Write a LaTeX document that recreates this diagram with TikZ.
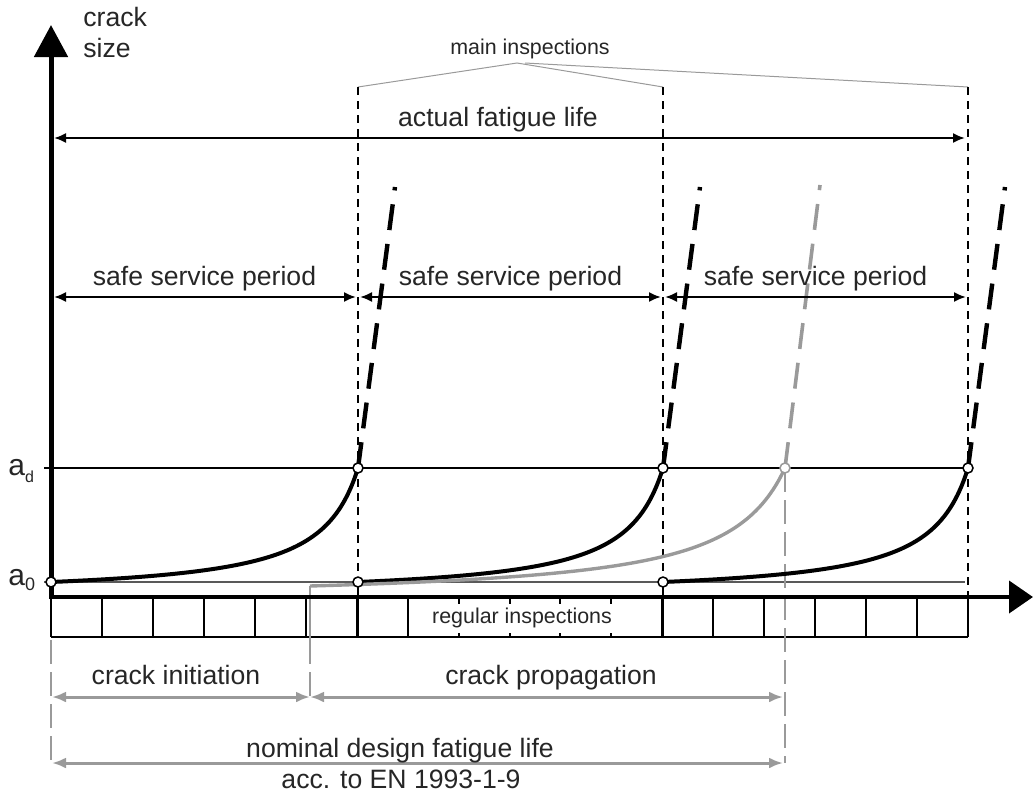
\documentclass[tikz,border=0pt]{standalone}
\usepackage{fontspec}
\setmainfont{Liberation Sans}
\usetikzlibrary{arrows.meta}
\definecolor{grayline}{HTML}{9A9A9A}
\definecolor{txt}{HTML}{262626}
\newcommand\crackcurve[5]{%
  \draw[#5] plot[domain=0:1,samples=90,smooth] ({#1+\x*(#2-#1)},{#3-(#3-#4)*(1/(1.13-\x)-0.88496)/6.80734});
}
\begin{document}
\begin{tikzpicture}[x=0.5pt,y=-0.5pt,
  lbl/.style={font=\fontsize{13.3}{14}\selectfont, text=txt, inner sep=0pt},
  small/.style={font=\fontsize{10.7}{12}\selectfont, text=txt, inner sep=0pt},
  vdash/.style={line width=1pt, dash pattern=on 4pt off 3pt},
  dim/.style={line width=1pt, {Latex[length=6pt,width=5pt]}-{Latex[length=6pt,width=5pt]}},
  gdim/.style={line width=1.5pt, draw=grayline, {Latex[length=7pt,width=5.5pt]}-{Latex[length=7pt,width=5.5pt]}},
  gdash/.style={line width=1pt, draw=grayline, dash pattern=on 12pt off 4pt},
  curve/.style={line width=2pt, black},
  gcurve/.style={line width=1.7pt, grayline},
  contdash/.style={line width=2.2pt, black, dash pattern=on 13pt off 7pt},
  gcontdash/.style={line width=1.8pt, grayline, dash pattern=on 13pt off 7pt},
  ring/.style={circle, draw=black, fill=white, line width=0.75pt, inner sep=0pt, minimum size=5pt},
  boxline/.style={line width=1pt},
  inspline/.style={line width=0.5pt, draw=grayline}
]
\useasboundingbox (0,0) rectangle (1034,793);

% key points
\coordinate (O) at (51,597);
\coordinate (Ytip) at (51,25);
\coordinate (Xstart) at (49,597);
\coordinate (Xtip) at (1033,597);
\coordinate (P0) at (51,582);
\coordinate (P1d) at (358,468);
\coordinate (P1o) at (358,582);
\coordinate (P2d) at (663,468);
\coordinate (P2o) at (663,582);
\coordinate (P3d) at (968,468);
\coordinate (Pg) at (785,468);
\coordinate (Pgo) at (310,586);
\coordinate (E1) at (395,187);
\coordinate (E2) at (700,187);
\coordinate (E3) at (1005,187);
\coordinate (Eg) at (820,185);
\coordinate (m1t) at (358,87);
\coordinate (m2t) at (663,87);
\coordinate (m3t) at (968,87);
\coordinate (m1b) at (358,637);
\coordinate (m2b) at (663,637);
\coordinate (m3b) at (968,597);
\coordinate (apex) at (517,63);
\coordinate (apexb) at (525,63);
\coordinate (adL) at (44,468);
\coordinate (a0L) at (44,582);
\coordinate (a0R) at (965,582);
\coordinate (boxBL) at (51,637);
\coordinate (boxBR) at (968,637);

% main inspections
\node[small, anchor=base] (mi) at (530,54) {main inspections};
\draw[inspline] (m1t) -- (apex) -- (m2t);
\draw[inspline] (apexb) -- (m3t);

% reference levels
\draw[line width=0.75pt] (adL) -- (P3d);
\draw[line width=0.6pt, draw=black!65] (a0L) -- (a0R);
\node[anchor=base west, inner sep=0pt, text=txt, font=\fontsize{15}{15}\selectfont] (ad) at (8,475) {a\raisebox{-3.5pt}{\fontsize{8}{8}\selectfont d}};
\node[anchor=base west, inner sep=0pt, text=txt, font=\fontsize{15}{15}\selectfont] (a0) at (8,585) {a\raisebox{-2.5pt}{\fontsize{9}{9}\selectfont 0}};

% main inspection lines
\draw[vdash] (m1t) -- (P1o);
\draw[vdash] (m2t) -- (P2o);
\draw[vdash] (m3t) -- (m3b);
\draw[boxline] (P1o) -- (m1b);
\draw[boxline] (P2o) -- (m2b);

% regular inspection boxes
\foreach \k in {0,...,18} {\draw[boxline] ({51+\k*50.944},597) -- ({51+\k*50.944},637);}
\draw[boxline] (boxBL) -- (boxBR);
\node[small, fill=white, inner xsep=2pt, inner ysep=0pt, minimum height=14.5pt] (ri) at (522,618) {regular inspections};

% gray verticals
\coordinate (g1a) at (51,640); \coordinate (g1b) at (51,763);
\coordinate (g2a) at (310,640); \coordinate (g2b) at (310,697);
\coordinate (g3b) at (785,763);
\draw[line width=1pt, draw=grayline] (Pgo) -- (g2a);
\draw[gdash] (g2a) -- (g2b);
\draw[gdash] (g1a) -- (g1b);
\draw[gdash, line width=0.75pt] (Pg) -- (g3b);

% crack curves
\crackcurve{51}{358}{582}{468}{curve}
\crackcurve{358}{663}{582}{468}{curve}
\crackcurve{310}{785}{586}{468}{gcurve}
\crackcurve{663}{968}{582}{468}{curve}
\draw[contdash] (P1d) -- (E1);
\draw[contdash] (P2d) -- (E2);
\draw[contdash] (P3d) -- (E3);
\draw[gcontdash] (Pg) -- (Eg);

% axes
\draw[line width=2pt, -{Triangle[length=12pt,width=16pt]}] (Xstart) -- (Xtip);
\draw[line width=2.5pt, -{Triangle[length=16pt,width=16.5pt]}] (51,599) -- (Ytip);
\node[lbl, anchor=base west] (crk) at (83,26) {crack};
\node[lbl, anchor=base west] (sz) at (83,57) {size};

% actual fatigue life
\coordinate (afL) at (54,138); \coordinate (afR) at (965,138);
\draw[dim] (afL) -- (afR);
\node[lbl, anchor=base] (afl) at (498,126) {actual fatigue life};

% safe service periods
\coordinate (s1L) at (54,297); \coordinate (s1R) at (356,297);
\coordinate (s2L) at (360,297); \coordinate (s2R) at (661,297);
\coordinate (s3L) at (665,297); \coordinate (s3R) at (966,297);
\draw[dim] (s1L) -- (s1R);
\draw[dim] (s2L) -- (s2R);
\draw[dim] (s3L) -- (s3R);
\node[lbl, anchor=base] (ssp1) at (204.5,285) {safe service period};
\node[lbl, anchor=base] (ssp2) at (510.5,285) {safe service period};
\node[lbl, anchor=base] (ssp3) at (815.5,285) {safe service period};

% design life dimensions
\coordinate (ciL) at (52,697); \coordinate (ciM) at (310,697); \coordinate (ciR) at (783,697);
\coordinate (ndL) at (52,763); \coordinate (ndR) at (783,763);
\draw[gdim] (ciL) -- (ciM);
\draw[gdim] (ciM) -- (ciR);
\draw[gdim] (ndL) -- (ndR);
\node[lbl, anchor=base] (ci) at (176,684) {crack initiation};
\node[lbl, anchor=base] (cp) at (551,684) {crack propagation};
\node[lbl, anchor=base] (nd) at (400,757) {nominal design fatigue life};
\node[lbl, anchor=base] (en) at (401,788) {acc. to EN 1993-1-9};

% rings
\node[ring] (nP0) at (P0) {};
\node[ring] (nP1d) at (P1d) {};
\node[ring] (nP1o) at (P1o) {};
\node[ring] (nP2d) at (P2d) {};
\node[ring] (nP2o) at (P2o) {};
\node[ring] (nP3d) at (P3d) {};
\node[ring, draw=grayline] (nPg) at (Pg) {};
\end{tikzpicture}
\end{document}
